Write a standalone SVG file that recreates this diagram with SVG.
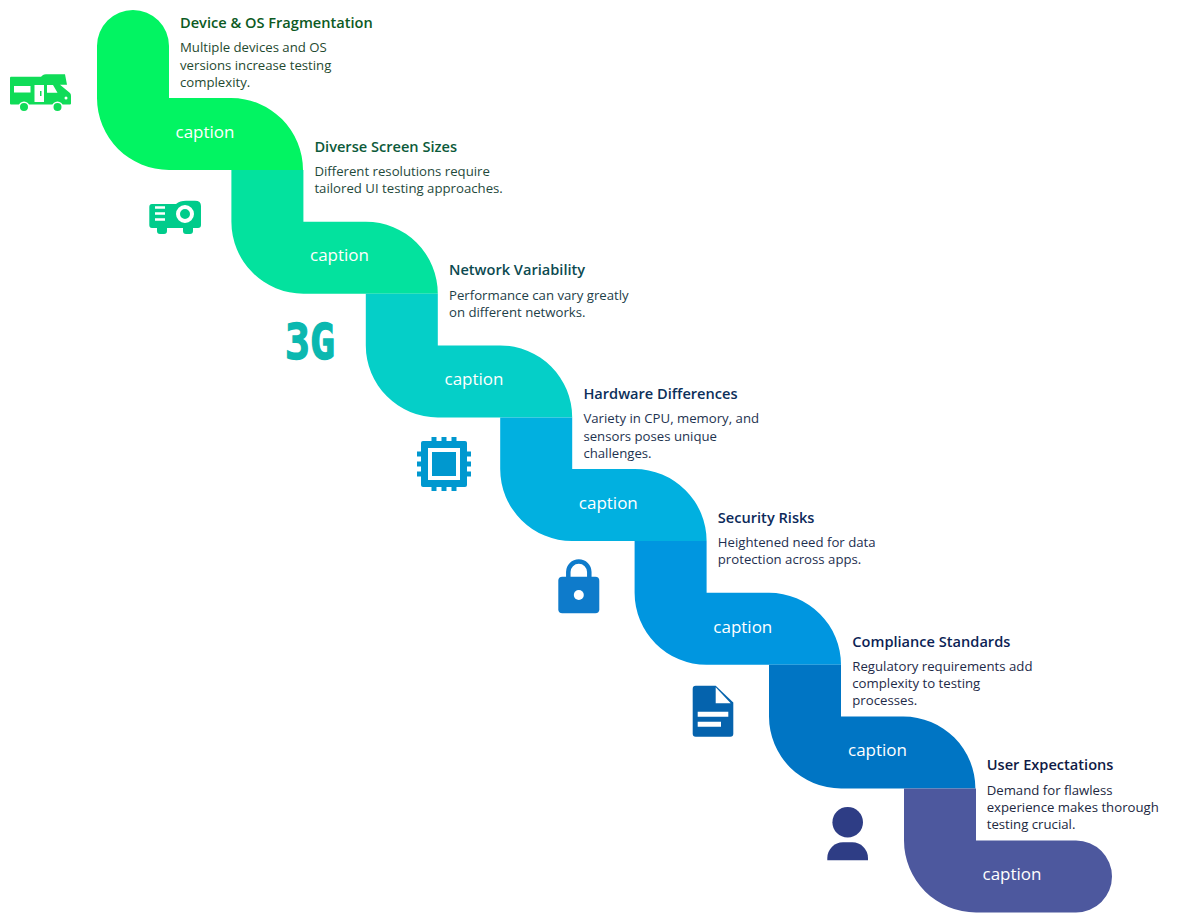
<svg xmlns="http://www.w3.org/2000/svg" width="1200" height="923" viewBox="0 0 1200 923">
  <style>
    text { font-family: "Open Sans", "Noto Sans", sans-serif; }
    .cap { font-size: 17px; fill: #ffffff; text-anchor: middle; font-weight: 500; }
    .ttl { font-size: 14.600px; font-weight: 600; }
    .txt { font-size: 13.200px; }
  </style>
  <defs>
    <path id="band" d="M0 0H72V51.7H134.4A72 72 0 0 1 206.4 123.7H72A72 72 0 0 1 0 51.7Z"/>
  </defs>
  <rect width="1200" height="923" fill="#ffffff"/>

  <g id="node-device">
    <path fill="#02f462" d="M97 46A36 36 0 0 1 169 46V98H231A72 72 0 0 1 303 170H169A72 72 0 0 1 97 98Z"/>
    <text class="cap" x="205" y="137.700">caption</text>
    <g fill="#10dc58">
      <path d="M10 78Q10 76.700 11 76.700H41L43 75Q44 74.300 46 74.300H65L67 84.700H60L70 93Q71 94 71 96V103.500Q71 104.500 70 104.500H11Q10 104.500 10 103.500Z"/>
      <circle cx="24" cy="107" r="4.750" stroke="#ffffff" stroke-width="1.500"/>
      <circle cx="57.500" cy="107" r="4.750" stroke="#ffffff" stroke-width="1.500"/>
    </g>
    <path fill="#ffffff" d="M14 86H30.500V92.500H14ZM34.500 85H44V102H34.500ZM47 85H53L57.500 92.800H47Z"/>
    <rect x="40" y="91" width="1.500" height="5" fill="#10dc58"/>
    <circle cx="66" cy="98" r="1.500" fill="#ffffff"/>
    <text class="ttl" fill="#0c5a23" x="180" y="28">Device &amp; OS Fragmentation</text>
    <text class="txt" fill="#1f4a30"><tspan x="180" y="52.300">Multiple devices and OS</tspan><tspan x="180" y="69.500">versions increase testing</tspan><tspan x="180" y="86.700">complexity.</tspan></text>
  </g>

  <g id="node-screens">
    <use href="#band" x="231.400" y="170" fill="#03e29e"/>
    <text class="cap" x="339.500" y="261.400">caption</text>
    <path fill="#00cc8b" d="M152 204H176Q180 200.700 186 200.700H195Q201 200.700 201 206V225Q201 228 198 228H193V231Q193 234 190 234H186Q183 234 183 231V228H167V231Q167 234 164 234H160Q157 234 157 231V228H152Q149.300 228 149.300 225V207Q149.300 204 152 204Z"/>
    <circle cx="185" cy="214" r="7" fill="#00cc8b" stroke="#ffffff" stroke-width="4"/>
    <path stroke="#ffffff" stroke-width="2.300" d="M155 207.500H165M155 213.500H165M155 219.500H165"/>
    <text class="ttl" fill="#0c5a3a" x="314.400" y="151.700">Diverse Screen Sizes</text>
    <text class="txt" fill="#1f4a3c"><tspan x="314.400" y="176">Different resolutions require</tspan><tspan x="314.400" y="193.200">tailored UI testing approaches.</tspan></text>
  </g>

  <g id="node-network">
    <use href="#band" x="365.800" y="293.700" fill="#05cfc8"/>
    <text class="cap" x="474" y="385.100">caption</text>
    <text x="285" y="359" fill="#0bb8b0" stroke="#0bb8b0" stroke-width="1.500" font-weight="700" font-size="50" textLength="50" lengthAdjust="spacingAndGlyphs" style="font-family:'DejaVu Sans Mono',monospace">3G</text>
    <text class="ttl" fill="#0c4a50" x="449" y="275.400">Network Variability</text>
    <text class="txt" fill="#1d4048"><tspan x="449" y="299.700">Performance can vary greatly</tspan><tspan x="449" y="316.900">on different networks.</tspan></text>
  </g>

  <g id="node-hardware">
    <use href="#band" x="500.200" y="417.400" fill="#01b0e0"/>
    <text class="cap" x="608.300" y="508.800">caption</text>
    <path stroke="#0098cf" stroke-width="5" d="M434 437V491M444 437V491M454 437V491M417 454H471M417 464H471M417 474H471"/>
    <rect x="421" y="441" width="46" height="46" rx="2" fill="#0098cf"/>
    <rect x="430" y="450" width="28" height="28" fill="#0098cf" stroke="#ffffff" stroke-width="4"/>
    <text class="ttl" fill="#0c2f5a" x="583.400" y="399.100">Hardware Differences</text>
    <text class="txt" fill="#1e3350"><tspan x="583.400" y="423.400">Variety in CPU, memory, and</tspan><tspan x="583.400" y="440.600">sensors poses unique</tspan><tspan x="583.400" y="457.800">challenges.</tspan></text>
  </g>

  <g id="node-security">
    <use href="#band" x="634.600" y="541.100" fill="#0096e0"/>
    <text class="cap" x="742.800" y="632.500">caption</text>
    <path fill="none" stroke="#0e7bcb" stroke-width="4.500" d="M568.300 578V572A10.500 10.500 0 0 1 589.300 572V578"/>
    <rect x="558.300" y="576.700" width="41" height="36.600" rx="4" fill="#0e7bcb"/>
    <circle cx="578.800" cy="595" r="5" fill="#ffffff"/>
    <text class="ttl" fill="#0c2a5a" x="717.800" y="522.800">Security Risks</text>
    <text class="txt" fill="#1e2f50"><tspan x="717.800" y="547.100">Heightened need for data</tspan><tspan x="717.800" y="564.300">protection across apps.</tspan></text>
  </g>

  <g id="node-compliance">
    <use href="#band" x="769" y="664.800" fill="#0075c4"/>
    <text class="cap" x="877.500" y="756.200">caption</text>
    <path fill="#0563ad" d="M695.700 685.700H715.700L733.300 702.500V733.700Q733.300 736.700 730.300 736.700H695.700Q692.700 736.700 692.700 733.700V688.700Q692.700 685.700 695.700 685.700Z"/>
    <path fill="#ffffff" d="M715.700 687.300V703.300H730.700ZM697.700 711.700H728.300V716.700H697.700ZM697.700 721.700H721V726.700H697.700Z"/>
    <text class="ttl" fill="#0c1f55" x="852.300" y="646.500">Compliance Standards</text>
    <text class="txt" fill="#1e2a48"><tspan x="852.300" y="670.800">Regulatory requirements add</tspan><tspan x="852.300" y="688">complexity to testing</tspan><tspan x="852.300" y="705.200">processes.</tspan></text>
  </g>

  <g id="node-expectations">
    <path fill="#4d589e" d="M904 788.500H976V840.500H1076A36 36 0 0 1 1076 912.500H976A72 72 0 0 1 904 840.500Z"/>
    <text class="cap" x="1012" y="879.700">caption</text>
    <circle cx="847.700" cy="822.300" r="15.300" fill="#2e3d85"/>
    <path fill="#2e3d85" d="M827.300 860.300V858A15.700 15.700 0 0 1 843 842.300H852.300A15.700 15.700 0 0 1 868 858V860.300Z"/>
    <text class="ttl" fill="#0f1a45" x="986.700" y="770.200">User Expectations</text>
    <text class="txt" fill="#22283f"><tspan x="986.700" y="794.500">Demand for flawless</tspan><tspan x="986.700" y="811.700">experience makes thorough</tspan><tspan x="986.700" y="828.900">testing crucial.</tspan></text>
  </g>
</svg>
